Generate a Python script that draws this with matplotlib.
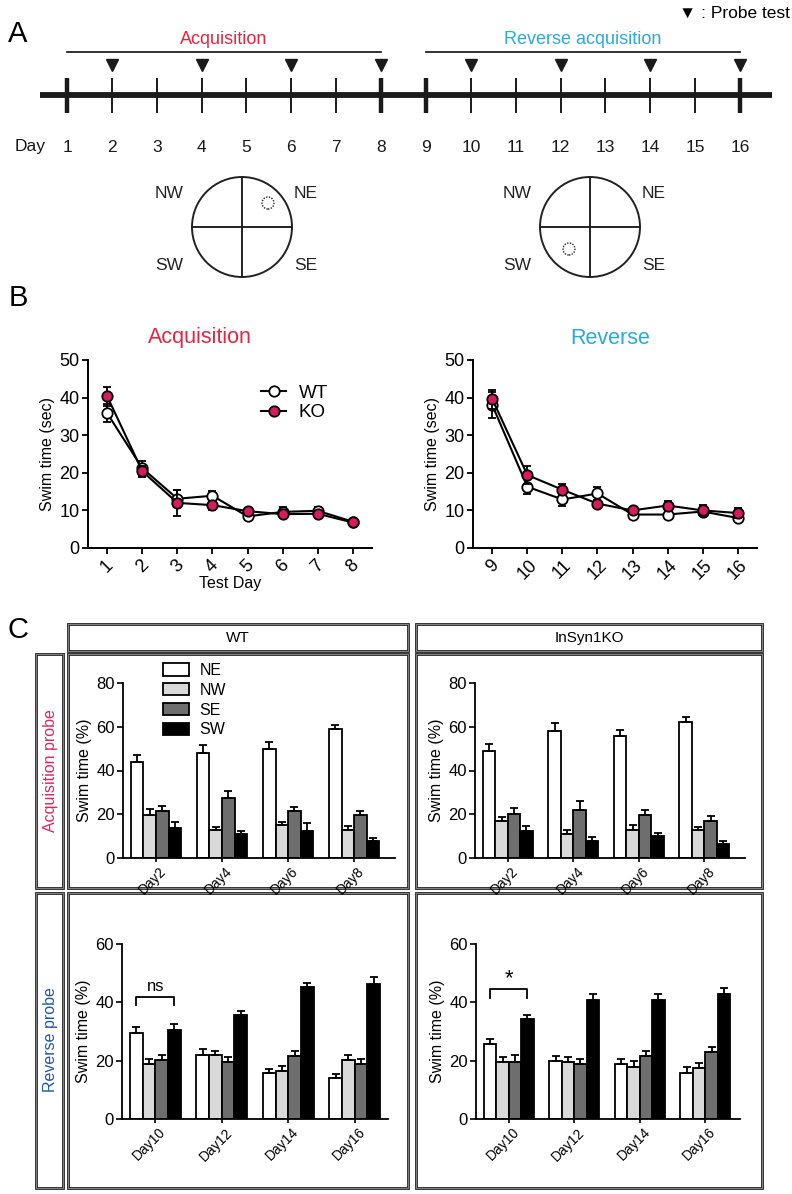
import numpy as np
import matplotlib
matplotlib.use('Agg')
import matplotlib.pyplot as plt
from matplotlib.patches import Rectangle, Circle
from matplotlib.lines import Line2D
from matplotlib.transforms import ScaledTranslation

plt.rcParams['font.family'] = ['Liberation Sans', 'DejaVu Sans']

W, H = 792, 1194

# ---------------- data ----------------
days = list(range(1, 17))
probe_days = [2, 4, 6, 8, 10, 12, 14, 16]
phase_bounds = [1, 8, 9, 16]
acq_phase = [1, 8]
rev_phase = [9, 16]

acq_days = [1, 2, 3, 4, 5, 6, 7, 8]
wt_acq = [35.8, 21.2, 13.1, 13.9, 8.4, 9.6, 9.9, 7.0]
wt_acq_err = [2.4, 2.0, 2.2, 1.2, 0.8, 1.2, 0.9, 0.6]
ko_acq = [40.3, 20.4, 12.0, 11.4, 9.8, 9.0, 9.1, 6.8]
ko_acq_err = [2.6, 1.4, 3.4, 1.2, 0.8, 1.0, 0.8, 0.6]

rev_days = [9, 10, 11, 12, 13, 14, 15, 16]
wt_rev = [38.0, 16.3, 12.9, 14.5, 8.9, 8.9, 9.7, 8.0]
wt_rev_err = [3.4, 2.0, 1.6, 1.8, 0.6, 1.2, 1.2, 1.0]
ko_rev = [39.6, 19.4, 15.5, 11.8, 10.0, 11.3, 10.0, 9.3]
ko_rev_err = [2.5, 2.3, 1.4, 0.8, 0.8, 1.2, 1.5, 1.3]

quads = ['NE', 'NW', 'SE', 'SW']
quad_colors = ['white', '#d9d9d9', '#6e6e6e', 'black']
acq_probe_labels = ['Day2', 'Day4', 'Day6', 'Day8']
rev_probe_labels = ['Day10', 'Day12', 'Day14', 'Day16']

# rows: NE, NW, SE, SW
wt_acq_probe = [[43.7, 48.2, 50.0, 58.8],
                [19.8, 12.7, 15.3, 13.0],
                [21.5, 27.4, 21.3, 19.5],
                [13.9, 10.9, 12.5, 7.9]]
wt_acq_probe_err = [[3.5, 3.5, 3.2, 2.1],
                    [2.6, 1.7, 1.2, 1.5],
                    [2.5, 3.4, 2.0, 2.0],
                    [2.6, 1.3, 3.5, 1.3]]
ko_acq_probe = [[48.8, 58.0, 55.9, 62.1],
                [17.0, 10.8, 13.0, 12.6],
                [20.3, 22.1, 19.7, 17.1],
                [12.4, 7.9, 10.0, 6.5]]
ko_acq_probe_err = [[3.5, 3.8, 2.4, 2.4],
                    [1.8, 1.8, 2.2, 1.6],
                    [2.6, 3.8, 2.3, 2.1],
                    [2.3, 1.6, 1.4, 1.2]]
wt_rev_probe = [[29.4, 21.9, 15.7, 13.9],
                [18.9, 21.9, 16.6, 20.1],
                [20.2, 19.7, 21.7, 18.9],
                [30.5, 35.7, 45.1, 46.3]]
wt_rev_probe_err = [[2.3, 2.2, 1.3, 1.4],
                    [1.6, 1.5, 1.7, 1.8],
                    [1.8, 1.6, 1.6, 1.7],
                    [2.1, 1.4, 1.6, 2.3]]
ko_rev_probe = [[25.7, 19.9, 18.9, 15.9],
                [19.7, 19.5, 17.9, 17.6],
                [19.7, 19.0, 21.7, 22.9],
                [34.2, 40.8, 40.7, 42.7]]
ko_rev_probe_err = [[1.8, 1.7, 1.8, 2.0],
                    [1.4, 1.9, 1.9, 1.7],
                    [2.2, 1.6, 1.6, 1.9],
                    [1.6, 2.1, 2.2, 2.1]]

RED = '#e6243f'
BLUE = '#2aa9e0'
KO_COLOR = '#d81b5a'
ROW_RED = '#e0245e'
ROW_BLUE = '#1f58a8'

fig = plt.figure(figsize=(W / 100, H / 100), dpi=100)


def ax_px(l, t, r, b, **kw):
    return fig.add_axes([l / W, 1 - b / H, (r - l) / W, (b - t) / H], **kw)


# overlay for labels & boxes (pixel coordinates)
ov = ax_px(0, 0, W, H)
ov.set_xlim(0, W)
ov.set_ylim(H, 0)
ov.axis('off')

# ---------------- Panel A ----------------
px_per_day = 44.87
d0 = 67
axA = ax_px(0, 0, W, 170)
axA.set_xlim(1 - d0 / px_per_day, 1 + (W - d0) / px_per_day)
axA.set_ylim(170, 0)
axA.axis('off')

axA.plot(acq_phase, [52, 52], color='#222', lw=1.3)
axA.plot(rev_phase, [52, 52], color='#222', lw=1.3)
axA.text(np.mean(acq_phase), 40, 'Acquisition', color=RED, fontsize=13,
         ha='center', va='center')
axA.text(np.mean(rev_phase), 40, 'Reverse acquisition', color=BLUE, fontsize=13,
         ha='center', va='center')
axA.plot(probe_days, [65] * len(probe_days), 'v', color='#1a1a1a', ms=8)
axA.plot([0.4, 16.72], [95, 95], color='#1a1a1a', lw=4.2, solid_capstyle='butt')
for d in days:
    lw = 3.2 if d in phase_bounds else 1.4
    axA.plot([d, d], [78, 113], color='#1a1a1a', lw=lw, solid_capstyle='butt')
    axA.text(d, 148, str(d), fontsize=12.5, ha='center', va='center', color='#1a1a1a')
ov.text(30, 147, 'Day', fontsize=12.5, ha='center', va='center', color='#1a1a1a')
ov.text(790, 13, '\u25bc : Probe test', fontsize=12.5, ha='right', va='center')
ov.text(18, 34, 'A', fontsize=21, ha='center', va='center')


def pool(cx, cy, target):
    ax = ax_px(cx - 100, cy - 60, cx + 100, cy + 60)
    ax.set_xlim(-2, 2)
    ax.set_ylim(-1.2, 1.2)
    ax.set_aspect('equal')
    ax.axis('off')
    ax.add_patch(Circle((0, 0), 1, fill=False, lw=1.4, color='#222'))
    ax.plot([-1, 1], [0, 0], color='#222', lw=1.4)
    ax.plot([0, 0], [-1, 1], color='#222', lw=1.4)
    ax.add_patch(Circle(target, 0.12, fill=False, lw=1.0, ls=(0, (1, 1)), color='#222'))
    for lab, (x, y) in zip(['NW', 'NE', 'SW', 'SE'],
                           [(-1.45, 0.68), (1.27, 0.68), (-1.45, -0.76), (1.27, -0.76)]):
        ax.text(x, y, lab, fontsize=12.5, ha='center', va='center', color='#222')


pool(242, 227, (0.52, 0.48))
pool(590, 227, (-0.42, -0.44))

# ---------------- Panel B ----------------
ov.text(18, 298, 'B', fontsize=21, ha='center', va='center')


def line_panel(l, r, xd, wt, wte, ko, koe, title, tcol, tx, xlabel, legend):
    ax = ax_px(l, 360, r, 548)
    ax.errorbar(xd, wt, yerr=wte, color='black', lw=1.5, marker='o', ms=7.5,
                mfc='white', mec='black', mew=1.3, capsize=3, capthick=1.3,
                elinewidth=1.3, zorder=3)
    ax.errorbar(xd, ko, yerr=koe, color='black', lw=1.5, marker='o', ms=7.5,
                mfc=KO_COLOR, mec='black', mew=1.3, capsize=3, capthick=1.3,
                elinewidth=1.3, zorder=4)
    ax.set_ylim(0, 50)
    ax.set_yticks([0, 10, 20, 30, 40, 50])
    ax.set_xlim(xd[0] - 0.55, xd[-1] + 0.55)
    ax.set_xticks(xd)
    ax.set_xticklabels([str(d) for d in xd], rotation=45, ha='center')
    for s in ['top', 'right']:
        ax.spines[s].set_visible(False)
    for s in ['left', 'bottom']:
        ax.spines[s].set_linewidth(1.4)
    ax.tick_params(direction='out', length=4, width=1.3, labelsize=13, pad=2)
    ax.set_ylabel('Swim time (sec)', fontsize=11.5, labelpad=3)
    if xlabel:
        ax.set_xlabel(xlabel, fontsize=11.5, labelpad=0)
    ov.text(tx, 338, title, color=tcol, fontsize=15.5, ha='center', va='center')
    if legend:
        h = [Line2D([], [], color='black', lw=1.5, marker='o', ms=7.5, mfc='white',
                    mec='black', mew=1.3),
             Line2D([], [], color='black', lw=1.5, marker='o', ms=7.5, mfc=KO_COLOR,
                    mec='black', mew=1.3)]
        ax.legend(h, ['WT', 'KO'], loc='upper left', frameon=False, fontsize=13.5,
                  bbox_to_anchor=(252 / W, 1 - 375 / H), bbox_transform=fig.transFigure,
                  handlelength=1.3, handletextpad=0.7, labelspacing=0.15, borderpad=0)
    return ax


line_panel(88, 372, acq_days, wt_acq, wt_acq_err, ko_acq, ko_acq_err,
           'Acquisition', RED, 200, 'Test Day', True)
line_panel(473, 757, rev_days, wt_rev, wt_rev_err, ko_rev, ko_rev_err,
           'Reverse', BLUE, 610, None, False)

# ---------------- Panel C ----------------
ov.text(18, 630, 'C', fontsize=21, ha='center', va='center')


def box(l, t, r, b):
    ov.add_patch(Rectangle((l, t), r - l, b - t, fill=False, lw=2.0, ec='#222'))
    ov.add_patch(Rectangle((l, t), r - l, b - t, fill=False, lw=0.5, ec='#aaaaaa'))


box(68, 624, 408, 651)
box(416, 624, 762, 651)
ov.text(238, 638, 'WT', fontsize=11, ha='center', va='center')
ov.text(589, 638, 'InSyn1KO', fontsize=11, ha='center', va='center')
box(36, 654, 63, 888)
box(36, 893, 63, 1188)
ov.text(50, 771, 'Acquisition probe', fontsize=11.5, rotation=90, color=ROW_RED,
        ha='center', va='center')
ov.text(50, 1040, 'Reverse probe', fontsize=11.5, rotation=90, color=ROW_BLUE,
        ha='center', va='center')
for (l, t, r, b) in [(68, 654, 408, 888), (416, 654, 762, 888),
                     (68, 893, 408, 1188), (416, 893, 762, 1188)]:
    box(l, t, r, b)

label_shift = ScaledTranslation(6 / 72, 0, fig.dpi_scale_trans)


def bar_panel(l, t, r, b, vals, errs, labels, ymax, yticks, xmax):
    ax = ax_px(l, t, r, b)
    x = np.arange(len(labels))
    w = 0.19
    for i, (q, c) in enumerate(zip(quads, quad_colors)):
        pos = x + (i - 1.5) * w
        ax.bar(pos, vals[i], w, color=c, edgecolor='black', linewidth=1.3,
               label=q, zorder=2)
        ax.errorbar(pos, vals[i], yerr=[np.zeros(len(x)), errs[i]], fmt='none',
                    ecolor='black', elinewidth=1.3, capsize=2.6, capthick=1.3, zorder=3)
    ax.set_ylim(0, ymax)
    ax.set_yticks(yticks)
    ax.set_xlim(-0.5, xmax)
    ax.set_xticks(x)
    for s in ['top', 'right']:
        ax.spines[s].set_visible(False)
    for s in ['left', 'bottom']:
        ax.spines[s].set_linewidth(1.3)
    ax.tick_params(direction='out', length=4, width=1.2, labelsize=12, pad=2)
    ax.tick_params(axis='x', labelsize=10, length=3, pad=5)
    ax.set_xticklabels(labels, rotation=45, ha='right', va='center',
                       rotation_mode='anchor')
    for lab in ax.get_xticklabels():
        lab.set_transform(lab.get_transform() + label_shift)
    ax.set_ylabel('Swim time (%)', fontsize=11.5, labelpad=3)
    return ax


axWA = bar_panel(123, 683, 395, 858, wt_acq_probe, wt_acq_probe_err,
                 acq_probe_labels, 80, [0, 20, 40, 60, 80], 3.62)
axKA = bar_panel(475, 683, 745, 858, ko_acq_probe, ko_acq_probe_err,
                 acq_probe_labels, 80, [0, 20, 40, 60, 80], 3.62)
axWR = bar_panel(122, 944, 388, 1119, wt_rev_probe, wt_rev_probe_err,
                 rev_probe_labels, 60, [0, 20, 40, 60], 3.5)
axKR = bar_panel(476, 944, 740, 1119, ko_rev_probe, ko_rev_probe_err,
                 rev_probe_labels, 60, [0, 20, 40, 60], 3.53)

axWA.legend(loc='upper left', frameon=False, fontsize=11.5,
            bbox_to_anchor=(155 / W, 1 - 655 / H), bbox_transform=fig.transFigure,
            handlelength=1.6, handleheight=0.8, handletextpad=0.7,
            labelspacing=0.3, borderpad=0)

# significance brackets (day10 NE vs SW)
bw = 0.19


def bracket(ax, y0, y1, label, fs, dy):
    xl, xr = -1.5 * bw, 1.5 * bw
    ax.plot([xl, xl, xr, xr], [y0, y1, y1, y0], color='black', lw=1.3, clip_on=False)
    ax.text(0, y1 + dy, label, ha='center', va='bottom', fontsize=fs)


bracket(axWR, 39.2, 41.7, 'ns', 12, 1.2)
bracket(axKR, 41.4, 44.5, '*', 16, 0.0)

fig.savefig('out.png', dpi=100)
